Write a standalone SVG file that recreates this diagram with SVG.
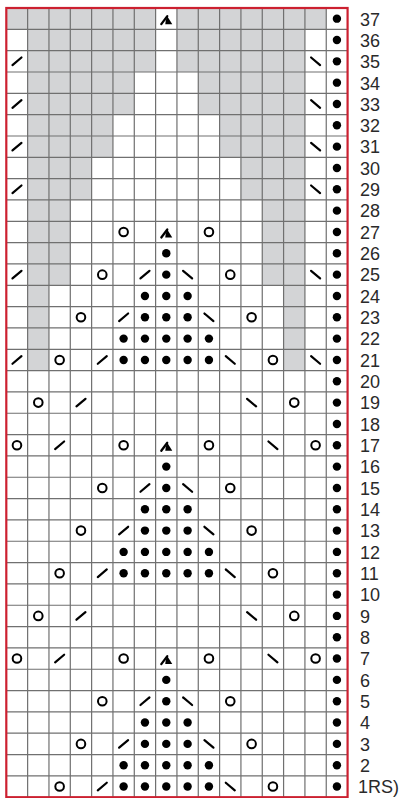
<svg xmlns="http://www.w3.org/2000/svg" width="400" height="798" viewBox="0 0 400 798">
<style>
.bg{fill:#ffffff}
.sh{fill:#d3d4d6}
.grid{fill:none;stroke:#707070;stroke-width:1.2}
.frame{fill:none;stroke:#cc2030;stroke-width:2.2}
.lbl{font-family:"Liberation Sans",Arial,sans-serif;font-size:18px;fill:#2a2a2a}
.ln{fill:none;stroke:#000;stroke-width:2.2;stroke-linecap:round}
</style>
<defs>
<circle id="d" r="4.2" fill="#000"/>
<circle id="o" r="4.3" fill="none" stroke="#000" stroke-width="2"/>
<path id="l" class="ln" d="M-4.5,3.8 L4.5,-3.8"/>
<path id="r" class="ln" d="M-4.5,-3.8 L4.5,3.8"/>
<g id="s"><path class="ln" d="M-5,5.5 L1,-2.5"/><path d="M-0.5,1.5 L1,-2.5 L6,5.5 L-1,5.5 Z" fill="#000"/></g>
</defs>
<rect class="bg" x="0" y="0" width="400" height="798"/>
<g id="shading">
<rect class="sh" x="6.3" y="8" width="149.31" height="21.33"/>
<rect class="sh" x="176.94" y="8" width="149.31" height="21.33"/>
<rect class="sh" x="27.63" y="29.33" width="127.98" height="42.66"/>
<rect class="sh" x="176.94" y="29.33" width="127.98" height="42.66"/>
<rect class="sh" x="27.63" y="71.99" width="106.65" height="42.66"/>
<rect class="sh" x="198.27" y="71.99" width="106.65" height="42.66"/>
<rect class="sh" x="27.63" y="114.65" width="85.32" height="42.66"/>
<rect class="sh" x="219.6" y="114.65" width="85.32" height="42.66"/>
<rect class="sh" x="27.63" y="157.31" width="63.99" height="42.66"/>
<rect class="sh" x="240.93" y="157.31" width="63.99" height="42.66"/>
<rect class="sh" x="27.63" y="199.97" width="42.66" height="85.32"/>
<rect class="sh" x="262.26" y="199.97" width="42.66" height="85.32"/>
<rect class="sh" x="27.63" y="285.29" width="21.33" height="85.32"/>
<rect class="sh" x="283.59" y="285.29" width="21.33" height="85.32"/>
</g>
<path class="grid" d="M27.63,8V797.21M48.96,8V797.21M70.29,8V797.21M91.62,8V797.21M112.95,8V797.21M134.28,8V797.21M155.61,8V797.21M176.94,8V797.21M198.27,8V797.21M219.6,8V797.21M240.93,8V797.21M262.26,8V797.21M283.59,8V797.21M304.92,8V797.21M326.25,8V797.21
M6.3,29.33H347.58M6.3,50.66H347.58M6.3,71.99H347.58M6.3,93.32H347.58M6.3,114.65H347.58M6.3,135.98H347.58M6.3,157.31H347.58M6.3,178.64H347.58M6.3,199.97H347.58M6.3,221.3H347.58M6.3,242.63H347.58M6.3,263.96H347.58M6.3,285.29H347.58M6.3,306.62H347.58M6.3,327.95H347.58M6.3,349.28H347.58M6.3,370.61H347.58M6.3,391.94H347.58M6.3,413.27H347.58M6.3,434.6H347.58M6.3,455.93H347.58M6.3,477.26H347.58M6.3,498.59H347.58M6.3,519.92H347.58M6.3,541.25H347.58M6.3,562.58H347.58M6.3,583.91H347.58M6.3,605.24H347.58M6.3,626.57H347.58M6.3,647.9H347.58M6.3,669.23H347.58M6.3,690.56H347.58M6.3,711.89H347.58M6.3,733.22H347.58M6.3,754.55H347.58M6.3,775.88H347.58"/>
<rect class="frame" x="6.3" y="8" width="341.28" height="789.21"/>
<g id="row37"><use href="#s" x="166.28" y="18.67"/><use href="#d" x="336.92" y="18.67"/></g>
<g id="row36"><use href="#d" x="336.92" y="40"/></g>
<g id="row35"><use href="#l" x="16.97" y="61.33"/><use href="#r" x="315.59" y="61.33"/><use href="#d" x="336.92" y="61.33"/></g>
<g id="row34"><use href="#d" x="336.92" y="82.66"/></g>
<g id="row33"><use href="#l" x="16.97" y="103.99"/><use href="#r" x="315.59" y="103.99"/><use href="#d" x="336.92" y="103.99"/></g>
<g id="row32"><use href="#d" x="336.92" y="125.32"/></g>
<g id="row31"><use href="#l" x="16.97" y="146.65"/><use href="#r" x="315.59" y="146.65"/><use href="#d" x="336.92" y="146.65"/></g>
<g id="row30"><use href="#d" x="336.92" y="167.98"/></g>
<g id="row29"><use href="#l" x="16.97" y="189.31"/><use href="#r" x="315.59" y="189.31"/><use href="#d" x="336.92" y="189.31"/></g>
<g id="row28"><use href="#d" x="336.92" y="210.64"/></g>
<g id="row27"><use href="#o" x="123.62" y="231.97"/><use href="#s" x="166.28" y="231.97"/><use href="#o" x="208.94" y="231.97"/><use href="#d" x="336.92" y="231.97"/></g>
<g id="row26"><use href="#d" x="166.28" y="253.3"/><use href="#d" x="336.92" y="253.3"/></g>
<g id="row25"><use href="#l" x="16.97" y="274.63"/><use href="#o" x="102.29" y="274.63"/><use href="#l" x="144.95" y="274.63"/><use href="#d" x="166.28" y="274.63"/><use href="#r" x="187.61" y="274.63"/><use href="#o" x="230.27" y="274.63"/><use href="#r" x="315.59" y="274.63"/><use href="#d" x="336.92" y="274.63"/></g>
<g id="row24"><use href="#d" x="144.95" y="295.96"/><use href="#d" x="166.28" y="295.96"/><use href="#d" x="187.61" y="295.96"/><use href="#d" x="336.92" y="295.96"/></g>
<g id="row23"><use href="#o" x="80.96" y="317.29"/><use href="#l" x="123.62" y="317.29"/><use href="#d" x="144.95" y="317.29"/><use href="#d" x="166.28" y="317.29"/><use href="#d" x="187.61" y="317.29"/><use href="#r" x="208.94" y="317.29"/><use href="#o" x="251.6" y="317.29"/><use href="#d" x="336.92" y="317.29"/></g>
<g id="row22"><use href="#d" x="123.62" y="338.62"/><use href="#d" x="144.95" y="338.62"/><use href="#d" x="166.28" y="338.62"/><use href="#d" x="187.61" y="338.62"/><use href="#d" x="208.94" y="338.62"/><use href="#d" x="336.92" y="338.62"/></g>
<g id="row21"><use href="#l" x="16.97" y="359.95"/><use href="#o" x="59.63" y="359.95"/><use href="#l" x="102.29" y="359.95"/><use href="#d" x="123.62" y="359.95"/><use href="#d" x="144.95" y="359.95"/><use href="#d" x="166.28" y="359.95"/><use href="#d" x="187.61" y="359.95"/><use href="#d" x="208.94" y="359.95"/><use href="#r" x="230.27" y="359.95"/><use href="#o" x="272.93" y="359.95"/><use href="#r" x="315.59" y="359.95"/><use href="#d" x="336.92" y="359.95"/></g>
<g id="row20"><use href="#d" x="336.92" y="381.28"/></g>
<g id="row19"><use href="#o" x="38.3" y="402.61"/><use href="#l" x="80.96" y="402.61"/><use href="#r" x="251.6" y="402.61"/><use href="#o" x="294.26" y="402.61"/><use href="#d" x="336.92" y="402.61"/></g>
<g id="row18"><use href="#d" x="336.92" y="423.94"/></g>
<g id="row17"><use href="#o" x="16.97" y="445.27"/><use href="#l" x="59.63" y="445.27"/><use href="#o" x="123.62" y="445.27"/><use href="#s" x="166.28" y="445.27"/><use href="#o" x="208.94" y="445.27"/><use href="#r" x="272.93" y="445.27"/><use href="#o" x="315.59" y="445.27"/><use href="#d" x="336.92" y="445.27"/></g>
<g id="row16"><use href="#d" x="166.28" y="466.6"/><use href="#d" x="336.92" y="466.6"/></g>
<g id="row15"><use href="#o" x="102.29" y="487.93"/><use href="#l" x="144.95" y="487.93"/><use href="#d" x="166.28" y="487.93"/><use href="#r" x="187.61" y="487.93"/><use href="#o" x="230.27" y="487.93"/><use href="#d" x="336.92" y="487.93"/></g>
<g id="row14"><use href="#d" x="144.95" y="509.26"/><use href="#d" x="166.28" y="509.26"/><use href="#d" x="187.61" y="509.26"/><use href="#d" x="336.92" y="509.26"/></g>
<g id="row13"><use href="#o" x="80.96" y="530.59"/><use href="#l" x="123.62" y="530.59"/><use href="#d" x="144.95" y="530.59"/><use href="#d" x="166.28" y="530.59"/><use href="#d" x="187.61" y="530.59"/><use href="#r" x="208.94" y="530.59"/><use href="#o" x="251.6" y="530.59"/><use href="#d" x="336.92" y="530.59"/></g>
<g id="row12"><use href="#d" x="123.62" y="551.92"/><use href="#d" x="144.95" y="551.92"/><use href="#d" x="166.28" y="551.92"/><use href="#d" x="187.61" y="551.92"/><use href="#d" x="208.94" y="551.92"/><use href="#d" x="336.92" y="551.92"/></g>
<g id="row11"><use href="#o" x="59.63" y="573.25"/><use href="#l" x="102.29" y="573.25"/><use href="#d" x="123.62" y="573.25"/><use href="#d" x="144.95" y="573.25"/><use href="#d" x="166.28" y="573.25"/><use href="#d" x="187.61" y="573.25"/><use href="#d" x="208.94" y="573.25"/><use href="#r" x="230.27" y="573.25"/><use href="#o" x="272.93" y="573.25"/><use href="#d" x="336.92" y="573.25"/></g>
<g id="row10"><use href="#d" x="336.92" y="594.58"/></g>
<g id="row9"><use href="#o" x="38.3" y="615.91"/><use href="#l" x="80.96" y="615.91"/><use href="#r" x="251.6" y="615.91"/><use href="#o" x="294.26" y="615.91"/><use href="#d" x="336.92" y="615.91"/></g>
<g id="row8"><use href="#d" x="336.92" y="637.24"/></g>
<g id="row7"><use href="#o" x="16.97" y="658.57"/><use href="#l" x="59.63" y="658.57"/><use href="#o" x="123.62" y="658.57"/><use href="#s" x="166.28" y="658.57"/><use href="#o" x="208.94" y="658.57"/><use href="#r" x="272.93" y="658.57"/><use href="#o" x="315.59" y="658.57"/><use href="#d" x="336.92" y="658.57"/></g>
<g id="row6"><use href="#d" x="166.28" y="679.9"/><use href="#d" x="336.92" y="679.9"/></g>
<g id="row5"><use href="#o" x="102.29" y="701.23"/><use href="#l" x="144.95" y="701.23"/><use href="#d" x="166.28" y="701.23"/><use href="#r" x="187.61" y="701.23"/><use href="#o" x="230.27" y="701.23"/><use href="#d" x="336.92" y="701.23"/></g>
<g id="row4"><use href="#d" x="144.95" y="722.56"/><use href="#d" x="166.28" y="722.56"/><use href="#d" x="187.61" y="722.56"/><use href="#d" x="336.92" y="722.56"/></g>
<g id="row3"><use href="#o" x="80.96" y="743.89"/><use href="#l" x="123.62" y="743.89"/><use href="#d" x="144.95" y="743.89"/><use href="#d" x="166.28" y="743.89"/><use href="#d" x="187.61" y="743.89"/><use href="#r" x="208.94" y="743.89"/><use href="#o" x="251.6" y="743.89"/><use href="#d" x="336.92" y="743.89"/></g>
<g id="row2"><use href="#d" x="123.62" y="765.22"/><use href="#d" x="144.95" y="765.22"/><use href="#d" x="166.28" y="765.22"/><use href="#d" x="187.61" y="765.22"/><use href="#d" x="208.94" y="765.22"/><use href="#d" x="336.92" y="765.22"/></g>
<g id="row1"><use href="#o" x="59.63" y="786.55"/><use href="#l" x="102.29" y="786.55"/><use href="#d" x="123.62" y="786.55"/><use href="#d" x="144.95" y="786.55"/><use href="#d" x="166.28" y="786.55"/><use href="#d" x="187.61" y="786.55"/><use href="#d" x="208.94" y="786.55"/><use href="#r" x="230.27" y="786.55"/><use href="#o" x="272.93" y="786.55"/><use href="#d" x="336.92" y="786.55"/></g>
<g id="labels" class="lbl">
<text x="360" y="25.5">37</text>
<text x="360" y="46.8">36</text>
<text x="360" y="68.1">35</text>
<text x="360" y="89.5">34</text>
<text x="360" y="110.8">33</text>
<text x="360" y="132.1">32</text>
<text x="360" y="153.4">31</text>
<text x="360" y="174.8">30</text>
<text x="360" y="196.1">29</text>
<text x="360" y="217.4">28</text>
<text x="360" y="238.8">27</text>
<text x="360" y="260.1">26</text>
<text x="360" y="281.4">25</text>
<text x="360" y="302.8">24</text>
<text x="360" y="324.1">23</text>
<text x="360" y="345.4">22</text>
<text x="360" y="366.8">21</text>
<text x="360" y="388.1">20</text>
<text x="360" y="409.4">19</text>
<text x="360" y="430.7">18</text>
<text x="360" y="452.1">17</text>
<text x="360" y="473.4">16</text>
<text x="360" y="494.7">15</text>
<text x="360" y="516.1">14</text>
<text x="360" y="537.4">13</text>
<text x="360" y="558.7">12</text>
<text x="360" y="580.1">11</text>
<text x="360" y="601.4">10</text>
<text x="360" y="622.7">9</text>
<text x="360" y="644">8</text>
<text x="360" y="665.4">7</text>
<text x="360" y="686.7">6</text>
<text x="360" y="708">5</text>
<text x="360" y="729.4">4</text>
<text x="360" y="750.7">3</text>
<text x="360" y="772">2</text>
<text x="358" y="793.4">1RS)</text>
</g>
</svg>
